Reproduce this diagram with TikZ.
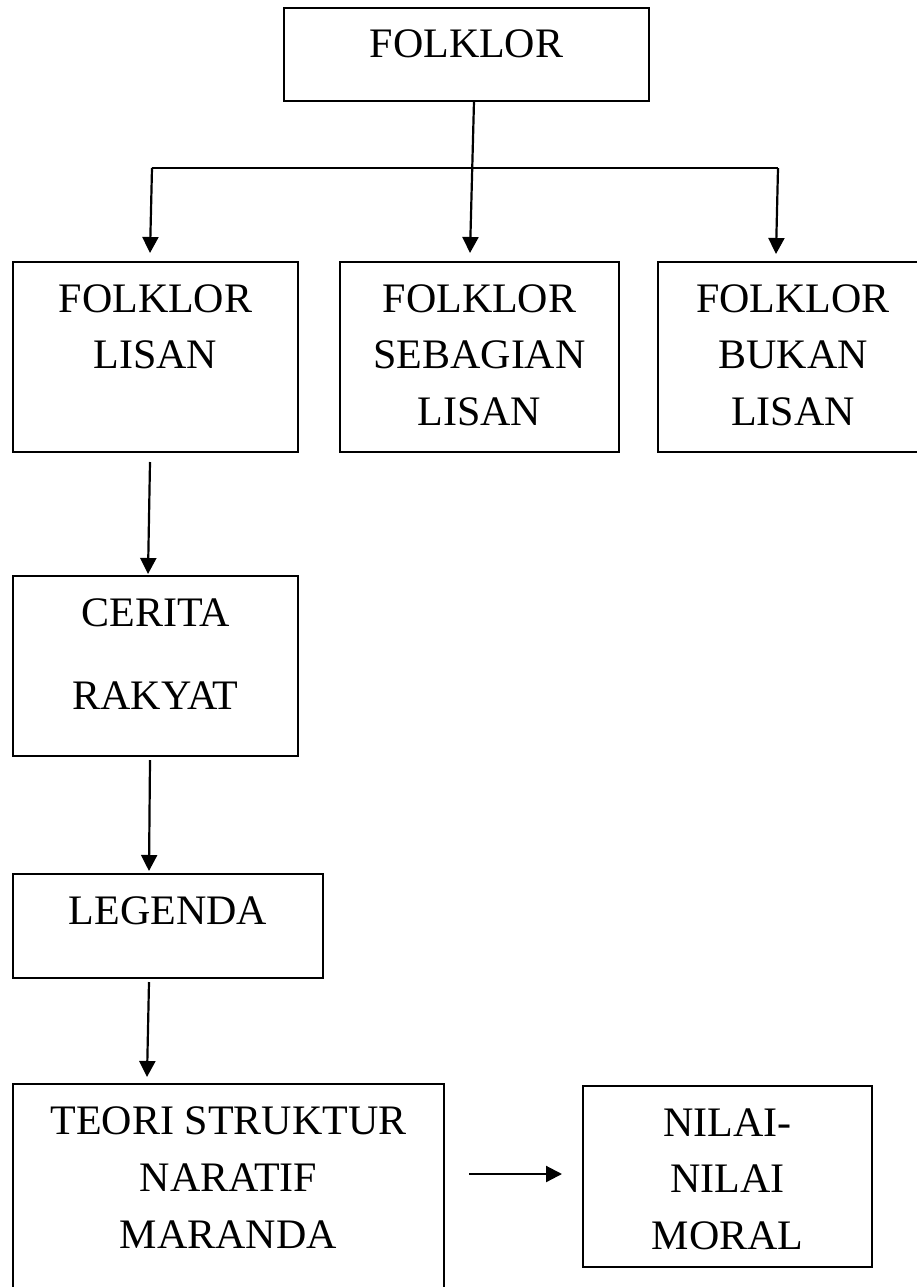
\documentclass[tikz,border=0pt]{standalone}
\usepackage{fontspec}
\setmainfont{Liberation Serif}
\usetikzlibrary{arrows.meta}
\newcommand\bxt[4]{\parbox[c][#2][t]{#1}{\centering\fontsize{42}{#3}\selectfont\rule{0pt}{50pt}#4\par}}
\tikzset{
  boxnode/.style={draw, line width=1.7pt, rectangle, inner sep=0pt, outer sep=0pt, anchor=north west},
  arr/.style={line width=2.2pt, -{Triangle[width=16pt 0 0,length=16pt 0 0]}},
  plainline/.style={line width=2.2pt}
}
\begin{document}
\begin{tikzpicture}[x=1pt,y=-1pt]
\fill[white] (0,0) rectangle (917,1287);
\useasboundingbox (0,0) rectangle (917,1287);
\node[boxnode] (top) at (284,8) {\bxt{365pt}{93pt}{50pt}{FOLKLOR}};
\node[boxnode] (b1) at (13,262) {\bxt{285pt}{190pt}{56pt}{FOLKLOR\\LISAN}};
\node[boxnode] (b2) at (340,262) {\bxt{279pt}{190pt}{56.5pt}{FOLKLOR\\SEBAGIAN\\LISAN}};
\node[boxnode] (b3) at (658,262) {\bxt{270pt}{190pt}{56.5pt}{FOLKLOR\\BUKAN\\LISAN}};
\node[boxnode] (cerita) at (13,576) {\bxt{285pt}{180pt}{83pt}{CERITA\\RAKYAT}};
\node[boxnode] (legenda) at (13,874) {\bxt{310pt}{104pt}{50pt}{LEGENDA}};
\node[boxnode] (teori) at (13,1084) {\bxt{431pt}{230pt}{57pt}{TEORI STRUKTUR\\NARATIF\\MARANDA}};
\node[boxnode] (nilai) at (583,1086) {\bxt{289pt}{181pt}{56.5pt}{NILAI-\\NILAI\\MORAL}};
\coordinate (bl) at (152,168);
\coordinate (br) at (778,168);
\draw[arr] ([xshift=7.5pt]top.south) -- ([xshift=-9.5pt,yshift=9pt]b2.north);
\draw[plainline] (bl) -- (br);
\draw[arr] (bl) -- ([xshift=-5.5pt,yshift=9pt]b1.north);
\draw[arr] (br) -- ([xshift=-17pt,yshift=8pt]b3.north);
\draw[arr] ([xshift=-5.5pt,yshift=-10pt]b1.south) -- ([xshift=-7.5pt,yshift=2pt]cerita.north);
\draw[arr] ([xshift=-5.5pt,yshift=-4pt]cerita.south) -- ([xshift=-19pt,yshift=3pt]legenda.north);
\draw[arr] ([xshift=-19pt,yshift=-4pt]legenda.south) -- ([xshift=-81.5pt,yshift=7pt]teori.north);
\draw[arr] ([xshift=25pt,yshift=-90pt]teori.north east) -- ([xshift=-21pt,yshift=-88pt]nilai.north west);
\end{tikzpicture}
\end{document}
